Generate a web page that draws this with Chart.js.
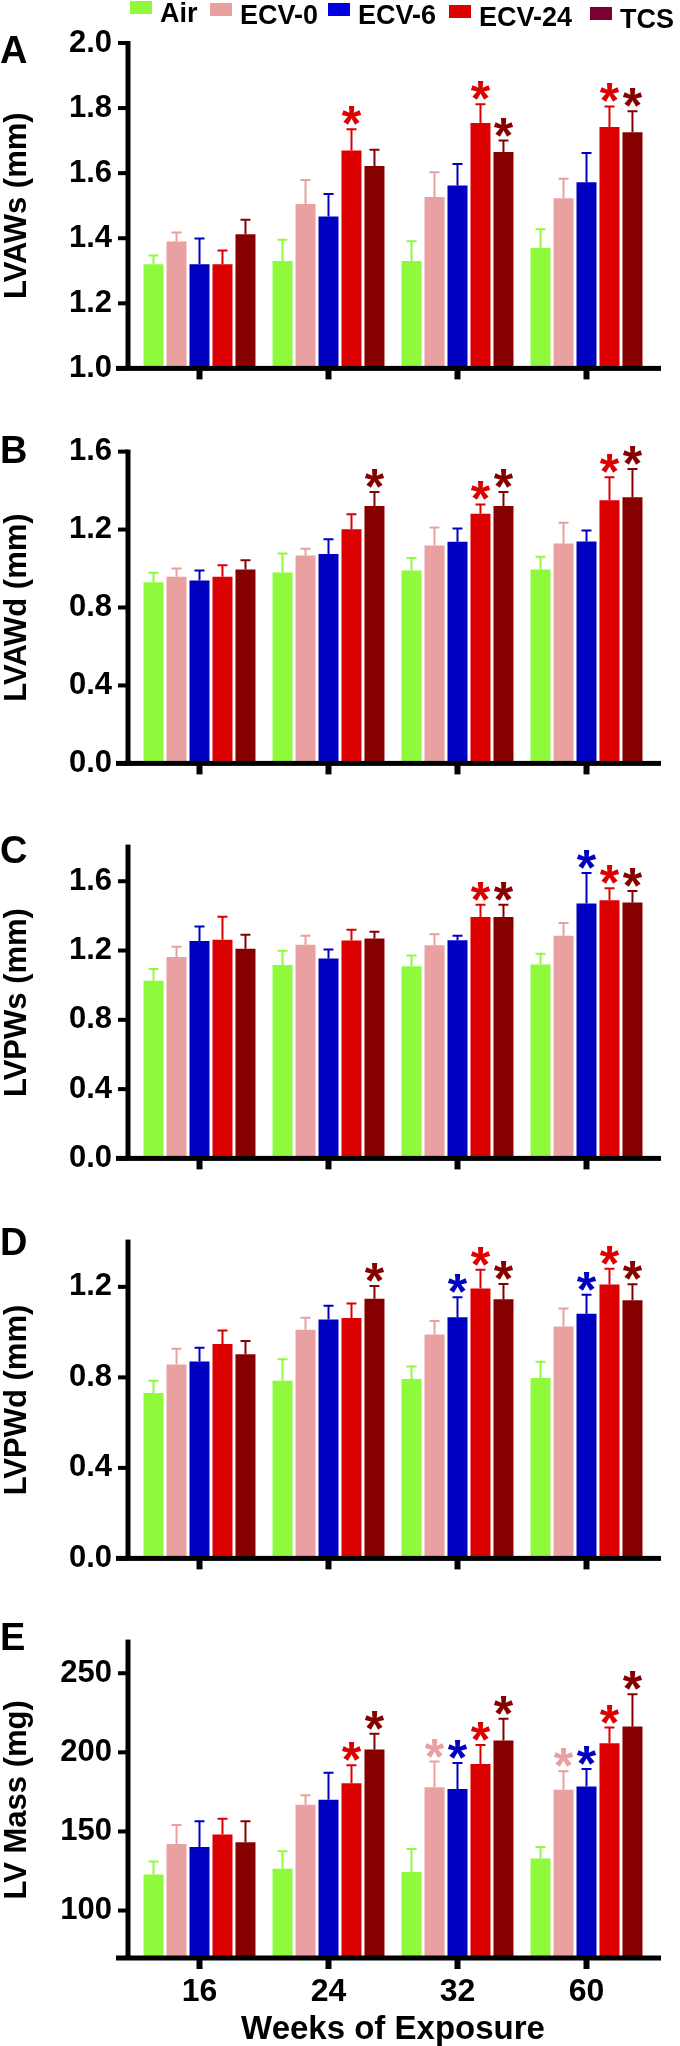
<!DOCTYPE html>
<html>
<head>
<meta charset="utf-8">
<script src="https://cdn.jsdelivr.net/npm/chart.js@4.4.0/dist/chart.umd.min.js"></script>
<style>
  body { margin: 0; background: #fff; }
  #page { position: relative; width: 680px; height: 2046px; overflow: hidden;
          font-family: "Liberation Sans", Arial, sans-serif; font-weight: bold; color: #000; }
  canvas { position: absolute; left: 0; }
  .letter { position: absolute; left: 0; font-size: 38px; line-height: 38px; }
  .lg { position: absolute; display: flex; align-items: flex-start; font-size: 27px;
        line-height: 27px; white-space: nowrap; }
  .lg .box { display: inline-block; width: 22px; height: 13px; margin: 1px 8px 0 0; }
</style>
</head>
<body>
<div id="page">
  <canvas id="cA" width="680" height="410" style="top:0px"></canvas>
  <canvas id="cB" width="680" height="395" style="top:410px"></canvas>
  <canvas id="cC" width="680" height="395" style="top:805px"></canvas>
  <canvas id="cD" width="680" height="400" style="top:1200px"></canvas>
  <canvas id="cE" width="680" height="446" style="top:1600px"></canvas>
  <div class="letter" style="top:31px">A</div>
  <div class="letter" style="top:431px">B</div>
  <div class="letter" style="top:831px">C</div>
  <div class="letter" style="top:1223px">D</div>
  <div class="letter" style="top:1618px">E</div>
  <div id="legend"></div>
</div>
<script>
const weeks = ["16", "24", "32", "60"];
const groups = ["Air", "ECV-0", "ECV-6", "ECV-24", "TCS"];

// A - LVAWs (mm); rows follow groups, columns follow weeks
const lvawsMean = [
  [1.32, 1.33, 1.33, 1.37],
  [1.39, 1.505, 1.527, 1.523],
  [1.32, 1.467, 1.562, 1.572],
  [1.32, 1.67, 1.754, 1.742],
  [1.412, 1.622, 1.665, 1.726]
];
const lvawsSD = [
  [0.027, 0.065, 0.061, 0.058],
  [0.028, 0.074, 0.076, 0.06],
  [0.079, 0.069, 0.066, 0.09],
  [0.042, 0.065, 0.058, 0.063],
  [0.045, 0.05, 0.035, 0.064]
];
const lvawsStar = [[0, 0, 0, 0], [0, 0, 0, 0], [0, 0, 0, 0], [0, 1, 1, 1], [0, 0, 1, 1]];
const lvawsTicks = [1.0, 1.2, 1.4, 1.6, 1.8, 2.0];

// B - LVAWd (mm)
const lvawdMean = [
  [0.93, 0.98, 0.99, 0.995],
  [0.958, 1.067, 1.118, 1.129],
  [0.939, 1.075, 1.137, 1.139],
  [0.958, 1.201, 1.281, 1.35],
  [0.995, 1.321, 1.321, 1.366]
];
const lvawdSD = [
  [0.048, 0.097, 0.064, 0.066],
  [0.042, 0.035, 0.093, 0.106],
  [0.051, 0.075, 0.069, 0.056],
  [0.059, 0.077, 0.048, 0.119],
  [0.048, 0.072, 0.072, 0.145]
];
const lvawdStar = [[0, 0, 0, 0], [0, 0, 0, 0], [0, 0, 0, 0], [0, 0, 1, 1], [0, 1, 1, 1]];
const lvawdTicks = [0.0, 0.4, 0.8, 1.2, 1.6];

// C - LVPWs (mm)
const lvpwsMean = [
  [1.025, 1.116, 1.109, 1.12],
  [1.163, 1.233, 1.231, 1.285],
  [1.255, 1.154, 1.26, 1.471],
  [1.262, 1.258, 1.393, 1.49],
  [1.21, 1.269, 1.393, 1.478]
];
const lvpwsSD = [
  [0.068, 0.083, 0.063, 0.061],
  [0.059, 0.052, 0.063, 0.074],
  [0.084, 0.052, 0.025, 0.176],
  [0.133, 0.062, 0.072, 0.07],
  [0.081, 0.04, 0.072, 0.065]
];
const lvpwsStar = [[0, 0, 0, 0], [0, 0, 0, 0], [0, 0, 0, 1], [0, 0, 1, 1], [0, 0, 1, 1]];
const lvpwsTicks = [0.0, 0.4, 0.8, 1.2, 1.6];

// D - LVPWd (mm)
const lvpwdMean = [
  [0.731, 0.785, 0.793, 0.797],
  [0.857, 1.011, 0.99, 1.025],
  [0.87, 1.056, 1.066, 1.081],
  [0.948, 1.062, 1.193, 1.21],
  [0.902, 1.147, 1.145, 1.141]
];
const lvpwdSD = [
  [0.054, 0.095, 0.055, 0.072],
  [0.069, 0.052, 0.059, 0.079],
  [0.061, 0.06, 0.088, 0.084],
  [0.059, 0.064, 0.083, 0.07],
  [0.059, 0.057, 0.068, 0.07]
];
const lvpwdStar = [[0, 0, 0, 0], [0, 0, 0, 0], [0, 0, 1, 1], [0, 0, 1, 1], [0, 1, 1, 1]];
const lvpwdTicks = [0.0, 0.4, 0.8, 1.2];

// E - LV Mass (mg)
const lvMassMean = [
  [122.8, 126.4, 124.4, 132.9],
  [142.1, 166.9, 178.0, 176.4],
  [140.1, 170.0, 176.8, 178.4],
  [148.0, 180.4, 192.7, 205.7],
  [143.1, 201.8, 207.5, 216.3]
];
const lvMassSD = [
  [8.2, 11.1, 14.5, 7.2],
  [11.9, 5.9, 16.2, 11.7],
  [16.4, 17.1, 16.5, 11.1],
  [10.1, 11.5, 11.9, 10.0],
  [13.4, 9.9, 13.7, 20.4]
];
const lvMassStar = [[0, 0, 0, 0], [0, 0, 1, 1], [0, 0, 1, 1], [0, 1, 1, 1], [0, 1, 1, 1]];
const lvMassTicks = [100, 150, 200, 250];

const barColors = ["#8ffa3c", "#e8a0a0", "#0000c0", "#dd0000", "#860000"];
const legendBoxColors = ["#8ffa3c", "#e8a0a0", "#0000e0", "#dd0000", "#7a0032"];
const FONT = "'Liberation Sans', Arial, sans-serif";

// legend (html)
const legendX = [130, 210, 328, 449, 590];
const legendY = [0, 2, 2, 4, 6];
const legendEl = document.getElementById("legend");
groups.forEach((g, i) => {
  const item = document.createElement("div");
  item.className = "lg";
  item.style.left = legendX[i] + "px";
  item.style.top = legendY[i] + "px";
  item.innerHTML = `<span class="box" style="background:${legendBoxColors[i]}"></span><span>${g}</span>`;
  legendEl.appendChild(item);
});

// axes, error bars and asterisks
const decor = {
  id: "decor",
  afterDatasetsDraw(chart) {
    const { ctx } = chart;
    const y = chart.scales.y;
    ctx.save();
    ctx.font = `bold 50px ${FONT}`;
    ctx.textAlign = "center";
    ctx.textBaseline = "alphabetic";
    const starDesc = ctx.measureText("*").actualBoundingBoxDescent;
    chart.data.datasets.forEach((ds, i) => {
      const meta = chart.getDatasetMeta(i);
      meta.data.forEach((bar, j) => {
        const capY = y.getPixelForValue(ds.data[j] + ds.sd[j]);
        ctx.strokeStyle = ds.backgroundColor;
        ctx.lineWidth = 2;
        ctx.beginPath();
        ctx.moveTo(bar.x, bar.y);
        ctx.lineTo(bar.x, capY);
        ctx.moveTo(bar.x - 5, capY);
        ctx.lineTo(bar.x + 5, capY);
        ctx.stroke();
        if (ds.star[j]) {
          ctx.fillStyle = ds.backgroundColor;
          ctx.fillText("*", bar.x, capY - 4 - starDesc);
        }
      });
    });
    ctx.restore();
  },
  afterDraw(chart) {
    const { ctx, chartArea } = chart;
    const { x, y } = chart.scales;
    const axisX = chartArea.left - 7;
    ctx.save();
    ctx.fillStyle = "#000";
    ctx.fillRect(axisX - 2.5, chartArea.top - 2, 5, chartArea.bottom - chartArea.top + 4);
    y.ticks.forEach(t => {
      const py = y.getPixelForValue(t.value);
      ctx.fillRect(axisX - 10, py - 2, 10, 4);
    });
    ctx.fillRect(axisX - 12, chartArea.bottom - 2.5, chartArea.right + 10 - (axisX - 12), 5);
    x.ticks.forEach((t, i) => {
      const px = x.getPixelForTick(i);
      ctx.fillRect(px - 3, chartArea.bottom, 6, 11);
    });
    ctx.restore();
  }
};

function makePanel(id, mean, sd, star, ticks, min, max, title, decimals, padTop, padBottom, xHeight, showX) {
  return new Chart(document.getElementById(id), {
    type: "bar",
    data: {
      labels: weeks,
      datasets: groups.map((g, i) => ({
        label: g,
        data: mean[i],
        sd: sd[i],
        star: star[i],
        backgroundColor: barColors[i],
        borderWidth: 0,
        categoryPercentage: 0.891,
        barPercentage: 0.87
      }))
    },
    options: {
      responsive: false,
      animation: false,
      layout: { padding: { top: padTop, right: 29, bottom: padBottom, left: 0 } },
      plugins: { legend: { display: false }, tooltip: { enabled: false } },
      scales: {
        x: {
          grid: { display: false, drawTicks: false },
          border: { display: false },
          ticks: { display: showX, color: "#000", padding: 15, font: { family: FONT, size: 32, weight: "bold" } },
          title: {
            display: showX, text: "Weeks of Exposure", color: "#000", padding: 0,
            font: { family: FONT, size: 33, weight: "bold", lineHeight: 1 }
          },
          afterFit(s) { s.height = xHeight; }
        },
        y: {
          min: min,
          max: max,
          afterBuildTicks(s) { s.ticks = ticks.map(v => ({ value: v })); },
          grid: { display: false, drawTicks: false },
          border: { display: false },
          ticks: {
            color: "#000", padding: 23,
            font: { family: FONT, size: 31, weight: "bold" },
            callback: v => Number(v).toFixed(decimals)
          },
          title: {
            display: true, text: title, color: "#000", padding: 0,
            font: { family: FONT, size: 31, weight: "bold", lineHeight: 1.1 }
          },
          afterFit(s) { s.width = 135; }
        }
      }
    },
    plugins: [decor]
  });
}

makePanel("cA", lvawsMean, lvawsSD, lvawsStar, lvawsTicks, 1.0, 2.0, "LVAWs (mm)", 1, 43, 13, 20, false);
makePanel("cB", lvawdMean, lvawdSD, lvawdStar, lvawdTicks, 0, 1.6, "LVAWd (mm)", 1, 33, 8, 20, false);
makePanel("cC", lvpwsMean, lvpwsSD, lvpwsStar, lvpwsTicks, 0, 1.8, "LVPWs (mm)", 1, 32, 7, 20, false);
makePanel("cD", lvpwdMean, lvpwdSD, lvpwdStar, lvpwdTicks, 0, 1.4, "LVPWd (mm)", 1, 32, 13, 20, false);
makePanel("cE", lvMassMean, lvMassSD, lvMassStar, lvMassTicks, 70, 270, "LV Mass (mg)", 0, 22, 0, 88, true);
</script>
</body>
</html>
